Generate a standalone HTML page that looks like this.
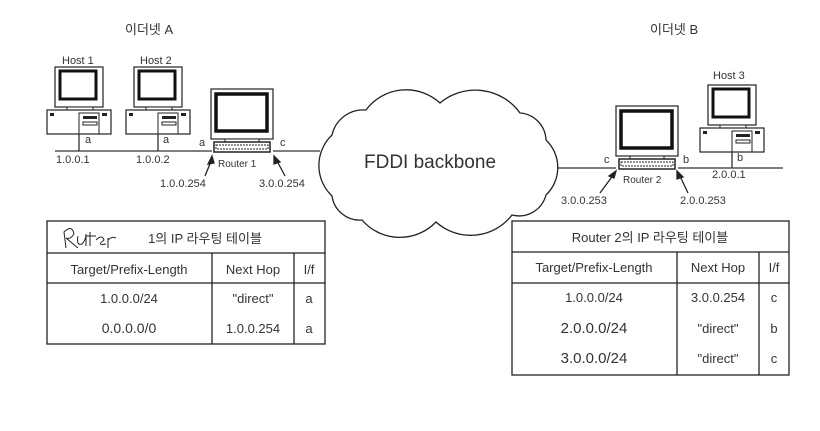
<!DOCTYPE html>
<html><head><meta charset="utf-8"><style>
body{margin:0;background:#fff;}
svg text{font-family:"Liberation Sans","Noto Sans CJK KR",sans-serif;fill:#333;}
</style></head><body>
<svg width="820" height="426" viewBox="0 0 820 426" xmlns="http://www.w3.org/2000/svg">
<defs>
<g id="pc">
 <rect x="0" y="0" width="48" height="40" fill="#fff" stroke="#222" stroke-width="1.2"/>
 <rect x="5" y="4" width="36" height="28" fill="#fff" stroke="#111" stroke-width="3"/>
 <rect x="12" y="40" width="26" height="3" fill="#fff" stroke="#222"/>
 <rect x="-8" y="43" width="64" height="24" fill="#fff" stroke="#222" stroke-width="1.2"/>
 <rect x="-5" y="46" width="4" height="3" fill="#222"/>
 <rect x="24" y="46" width="20" height="21" fill="none" stroke="#222"/>
 <rect x="28" y="49" width="14" height="3" fill="#222"/>
 <rect x="28" y="55" width="14" height="3" fill="none" stroke="#222"/>
 <rect x="47" y="46" width="5" height="3" fill="#222"/>
</g>
<g id="rt">
 <rect x="0" y="0" width="62" height="50" fill="#fff" stroke="#222" stroke-width="1.2"/>
 <rect x="5" y="5" width="51" height="37" fill="#fff" stroke="#111" stroke-width="3.5"/>
 <rect x="14" y="50" width="34" height="3" fill="#fff" stroke="#222"/>
 <rect x="3" y="53" width="56" height="10" fill="#fff" stroke="#222" stroke-width="1.5"/>
 <rect x="5" y="56" width="52" height="4" fill="none" stroke="#222" stroke-dasharray="2 1"/>
</g>
</defs>
<text x="125" y="34" font-size="13">이더넷 A</text>
<text x="650" y="34" font-size="13">이더넷 B</text>
<text x="62" y="64" font-size="11">Host 1</text>
<text x="140" y="64" font-size="11">Host 2</text>
<text x="713" y="79" font-size="11">Host 3</text>
<use href="#pc" x="55" y="67"/>
<use href="#pc" x="134" y="67"/>
<use href="#rt" x="211" y="89"/>
<use href="#pc" x="708" y="85"/>
<use href="#rt" x="616" y="106"/>
<g stroke="#333" stroke-width="1.3">
<line x1="55" y1="151" x2="212" y2="151"/>
<line x1="79" y1="134" x2="79" y2="151"/>
<line x1="158" y1="134" x2="158" y2="151"/>
<line x1="273" y1="151" x2="320" y2="151"/>
<line x1="556" y1="168" x2="616" y2="168"/>
<line x1="678" y1="168" x2="783" y2="168"/>
<line x1="732" y1="152" x2="732" y2="168"/>
</g>
<g font-size="11">
<text x="85" y="143">a</text><text x="163" y="143">a</text>
<text x="199" y="146">a</text><text x="280" y="146">c</text>
<text x="56" y="163">1.0.0.1</text><text x="136" y="163">1.0.0.2</text>
<text x="218" y="167" font-size="10">Router 1</text>
<text x="160" y="187">1.0.0.254</text><text x="259" y="187">3.0.0.254</text>
<text x="604" y="163">c</text><text x="683" y="163">b</text>
<text x="737" y="161">b</text>
<text x="712" y="178">2.0.0.1</text>
<text x="623" y="183" font-size="10">Router 2</text>
<text x="561" y="204">3.0.0.253</text><text x="680" y="204">2.0.0.253</text>
</g>
<g stroke="#222" stroke-width="1.3" fill="#222">
<line x1="205" y1="176" x2="212" y2="159"/><polygon points="212,156 208,164 214,163"/>
<line x1="285" y1="176" x2="276" y2="159"/><polygon points="274,156 274,164 280,162"/>
<line x1="600" y1="193" x2="614" y2="174"/><polygon points="616,171 609,176 614,178"/>
<line x1="688" y1="193" x2="679" y2="174"/><polygon points="677,171 677,179 683,177"/>
</g>
<path d="M332,135 A32,32 0 0 1 366,110 A50,50 0 0 1 440,103 A55,55 0 0 1 520,113 A28,28 0 0 1 546,140 A38,38 0 0 1 546,195 A28,28 0 0 1 512,215 A52,52 0 0 1 436,222 A50,50 0 0 1 362,220 A28,28 0 0 1 332,196 A42,42 0 0 1 332,135 Z" fill="#fff" stroke="#222" stroke-width="1.3"/>
<text x="364" y="168" font-size="19" fill="#222">FDDI backbone</text>
<g stroke="#222" stroke-width="1.3" fill="none">
<rect x="47" y="221" width="278" height="123"/>
<line x1="47" y1="253" x2="325" y2="253"/>
<line x1="47" y1="283" x2="325" y2="283"/>
<line x1="212" y1="253" x2="212" y2="344"/>
<line x1="294" y1="253" x2="294" y2="344"/>
<path d="M66,248 L64,232 Q72,224 74,234 Q70,240 66,238 L78,248 M78,236 Q76,246 82,244 Q86,240 86,234 L86,246 M90,232 L90,246 M86,236 L96,236 M96,240 Q102,234 104,240 Q96,246 106,244 M108,238 L108,248 M108,240 Q112,236 116,238" stroke-width="1"/>
</g>
<g font-size="13" text-anchor="middle">
<text x="205" y="243">1의 IP 라우팅 테이블</text>
<text x="129" y="274">Target/Prefix-Length</text>
<text x="253" y="274">Next Hop</text>
<text x="309" y="274">I/f</text>
<text x="129" y="303">1.0.0.0/24</text>
<text x="253" y="303">"direct"</text>
<text x="309" y="303">a</text>
<text x="129" y="333" font-size="14">0.0.0.0/0</text>
<text x="253" y="333">1.0.0.254</text>
<text x="309" y="333">a</text>
</g>
<g stroke="#222" stroke-width="1.3" fill="none">
<rect x="512" y="221" width="277" height="154"/>
<line x1="512" y1="252" x2="789" y2="252"/>
<line x1="512" y1="283" x2="789" y2="283"/>
<line x1="677" y1="252" x2="677" y2="375"/>
<line x1="759" y1="252" x2="759" y2="375"/>
</g>
<g font-size="13" text-anchor="middle">
<text x="650" y="242">Router 2의 IP 라우팅 테이블</text>
<text x="594" y="272">Target/Prefix-Length</text>
<text x="718" y="272">Next Hop</text>
<text x="774" y="272">I/f</text>
<text x="594" y="302">1.0.0.0/24</text>
<text x="718" y="302">3.0.0.254</text>
<text x="774" y="302">c</text>
<text x="594" y="333" font-size="15">2.0.0.0/24</text>
<text x="718" y="333">"direct"</text>
<text x="774" y="333">b</text>
<text x="594" y="363" font-size="15">3.0.0.0/24</text>
<text x="718" y="363">"direct"</text>
<text x="774" y="363">c</text>
</g>
</svg>
</body></html>
